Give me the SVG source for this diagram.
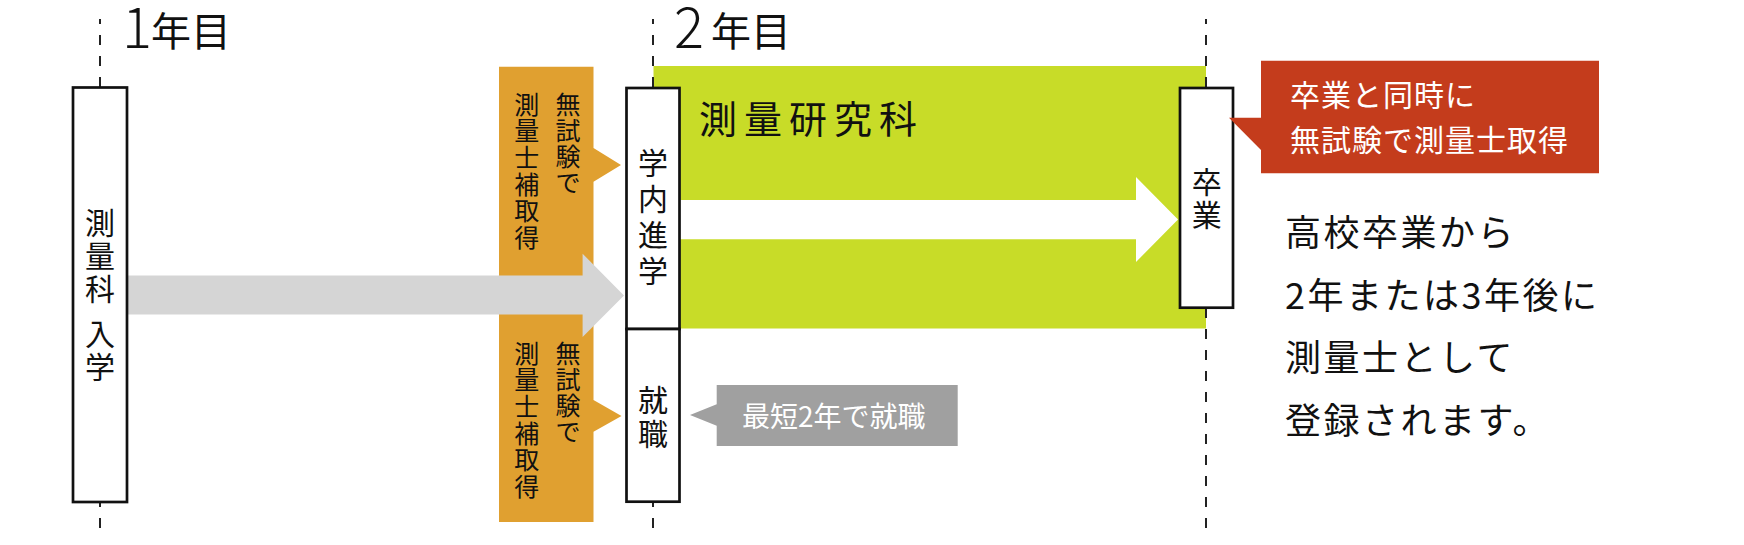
<svg xmlns="http://www.w3.org/2000/svg" width="1744" height="545" viewBox="0 0 1744 545">
<style>
text{font-family:"Noto Sans CJK JP","Noto Sans CJK SC",sans-serif;fill:#111}
.guide{stroke:#222;stroke-width:2;stroke-dasharray:10 11;fill:none}
.box{fill:#fff;stroke:#111;stroke-width:2.7}
.vt{font-size:30px;text-anchor:middle}
.ot{font-size:25px;text-anchor:middle}
.wt{fill:#fff}
.rt{font-size:36px;letter-spacing:2.5px}
.digit{font-size:56px;font-weight:300}
.year{font-size:40px}
</style>
<rect width="1744" height="545" fill="#fff"/>
<g id="bands">
<polygon id="orange-band" fill="#E0A030" points="499,66.7 593.5,66.7 593.5,148 621,165 593.5,181.7 593.5,400 621.5,416 593.5,431.7 593.5,522 499,522"/>
<rect id="green-band" x="653.5" y="66" width="552.5" height="262.5" fill="#C8DC28"/>
</g>
<g id="guides">
<line class="guide" x1="100" y1="528" x2="100" y2="19"/>
<line class="guide" x1="653" y1="528" x2="653" y2="19"/>
<line class="guide" x1="1206" y1="528" x2="1206" y2="19"/>
</g>
<g id="connectors">
<polygon id="arrow-gray" fill="#D5D5D5" points="127,275.6 582.6,275.6 582.6,253.7 624,295.5 582.6,337 582.6,314.6 127,314.6"/>
<polygon id="arrow-white" fill="#fff" points="680,200 1136,200 1136,177 1178,219.5 1136,262 1136,239.3 680,239.3"/>
</g>
<g id="year-labels">
<text class="digit" x="122" y="48">1</text>
<text class="year" x="151" y="46">年目</text>
<text class="digit" x="674" y="48">2</text>
<text class="year" x="711" y="46">年目</text>
</g>
<g id="node-entry">
<rect class="box" x="73" y="87.5" width="54" height="414.5"/>
<text class="vt"><tspan x="100" y="234">測</tspan><tspan x="100" y="267">量</tspan><tspan x="100" y="300">科</tspan><tspan x="100" y="345">入</tspan><tspan x="100" y="378">学</tspan></text>
</g>
<g id="node-license-upper">
<text class="ot"><tspan x="568" y="113.5">無</tspan><tspan x="568" y="139.8">試</tspan><tspan x="568" y="166">験</tspan><tspan x="568" y="192.3">で</tspan></text>
<text class="ot"><tspan x="526.7" y="113.5">測</tspan><tspan x="526.7" y="140.2">量</tspan><tspan x="526.7" y="166.8">士</tspan><tspan x="526.7" y="193.5">補</tspan><tspan x="526.7" y="220.2">取</tspan><tspan x="526.7" y="246.8">得</tspan></text>
</g>
<g id="node-license-lower">
<text class="ot"><tspan x="568" y="362.5">無</tspan><tspan x="568" y="388.8">試</tspan><tspan x="568" y="415">験</tspan><tspan x="568" y="441.3">で</tspan></text>
<text class="ot"><tspan x="526.7" y="362.5">測</tspan><tspan x="526.7" y="389.2">量</tspan><tspan x="526.7" y="415.8">士</tspan><tspan x="526.7" y="442.5">補</tspan><tspan x="526.7" y="469.2">取</tspan><tspan x="526.7" y="495.8">得</tspan></text>
</g>
<g id="node-advance">
<rect class="box" x="626.5" y="88" width="53" height="241"/>
<text class="vt" font-size="31"><tspan x="653" y="174">学</tspan><tspan x="653" y="210">内</tspan><tspan x="653" y="246">進</tspan><tspan x="653" y="282">学</tspan></text>
</g>
<g id="node-job">
<rect class="box" x="626.5" y="329" width="53" height="172.7"/>
<text class="vt"><tspan x="653" y="411">就</tspan><tspan x="653" y="445">職</tspan></text>
</g>
<g id="node-research">
<text x="699" y="133" font-size="38" letter-spacing="7">測量研究科</text>
</g>
<g id="node-graduate">
<rect class="box" x="1180" y="88" width="53" height="219.7"/>
<text class="vt"><tspan x="1206.7" y="193">卒</tspan><tspan x="1206.7" y="226">業</tspan></text>
</g>
<g id="node-callout-red">
<polygon fill="#C43C1C" points="1261,60.7 1599,60.7 1599,173.3 1261,173.3 1261,150 1229,117.7 1261,117.7"/>
<text class="wt" font-size="30" letter-spacing="1"><tspan x="1290" y="106">卒業と同時に</tspan><tspan x="1290" y="151">無試験で測量士取得</tspan></text>
</g>
<g id="node-callout-gray">
<polygon fill="#A0A0A0" points="716.7,385 957.7,385 957.7,446 716.7,446 716.7,425.7 690,415 716.7,404.3"/>
<text class="wt" x="742" y="427" font-size="28">最短2年で就職</text>
</g>
<g id="node-note">
<text class="rt"><tspan x="1285" y="246">高校卒業から</tspan><tspan x="1285" y="308.5">2年または3年後に</tspan><tspan x="1285" y="371">測量士として</tspan><tspan x="1285" y="433.5">登録されます。</tspan></text>
</g>
</svg>
